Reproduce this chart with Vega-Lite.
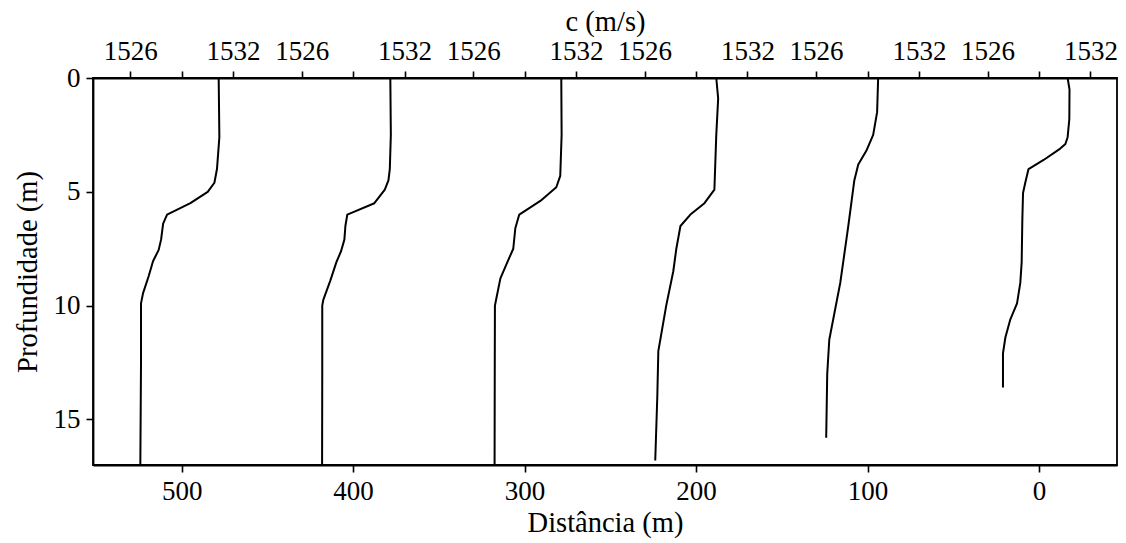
{
  "$schema": "https://vega.github.io/schema/vega-lite/v6.json",
  "width": 1024,
  "height": 387,
  "autosize": {"type": "none"},
  "padding": {"left": 93, "top": 78, "right": 9, "bottom": 78},
  "background": "white",
  "config": {
    "font": "'Liberation Serif', 'Times New Roman', serif",
    "view": {"stroke": "black", "strokeWidth": 1.8},
    "axis": {
      "grid": false,
      "domainColor": "black",
      "domainWidth": 1.8,
      "tickColor": "black",
      "tickWidth": 1.6,
      "tickSize": 7,
      "labelFont": "'Liberation Serif', 'Times New Roman', serif",
      "labelFontSize": 27,
      "labelColor": "black",
      "labelPadding": 6,
      "labelOverlap": false,
      "labelFlush": false,
      "titleFont": "'Liberation Serif', 'Times New Roman', serif",
      "titleFontSize": 28.5,
      "titleFontWeight": "normal",
      "titleColor": "black"
    }
  },
  "data": {
    "values": [
      {"p": 1, "d": 478.4, "z": 0}, {"p": 1, "d": 478.0, "z": 2.6}, {"p": 1, "d": 479.4, "z": 4.0}, {"p": 1, "d": 480.9, "z": 4.6},
      {"p": 1, "d": 484.8, "z": 5.0}, {"p": 1, "d": 494.9, "z": 5.5}, {"p": 1, "d": 508.5, "z": 6.0}, {"p": 1, "d": 510.8, "z": 6.4},
      {"p": 1, "d": 512.0, "z": 7.1}, {"p": 1, "d": 513.4, "z": 7.55}, {"p": 1, "d": 516.7, "z": 8.05}, {"p": 1, "d": 519.2, "z": 8.7},
      {"p": 1, "d": 522.5, "z": 9.45}, {"p": 1, "d": 523.7, "z": 9.9}, {"p": 1, "d": 523.7, "z": 12.5}, {"p": 1, "d": 524.1, "z": 17},

      {"p": 2, "d": 378.3, "z": 0}, {"p": 2, "d": 378.0, "z": 2.5}, {"p": 2, "d": 378.6, "z": 4.0}, {"p": 2, "d": 379.4, "z": 4.5},
      {"p": 2, "d": 381.5, "z": 4.9}, {"p": 2, "d": 387.6, "z": 5.5}, {"p": 2, "d": 403.4, "z": 6.0}, {"p": 2, "d": 404.5, "z": 6.5},
      {"p": 2, "d": 405.1, "z": 7.1}, {"p": 2, "d": 407.0, "z": 7.6}, {"p": 2, "d": 409.8, "z": 8.1}, {"p": 2, "d": 413.3, "z": 8.9},
      {"p": 2, "d": 417.4, "z": 9.75}, {"p": 2, "d": 418.0, "z": 10}, {"p": 2, "d": 418.0, "z": 13}, {"p": 2, "d": 418.1, "z": 17},

      {"p": 3, "d": 278.6, "z": 0}, {"p": 3, "d": 278.4, "z": 2.5}, {"p": 3, "d": 279.2, "z": 4.3}, {"p": 3, "d": 281.5, "z": 4.8},
      {"p": 3, "d": 290.8, "z": 5.4}, {"p": 3, "d": 303.1, "z": 6.0}, {"p": 3, "d": 305.4, "z": 6.6}, {"p": 3, "d": 306.6, "z": 7.5},
      {"p": 3, "d": 310.1, "z": 8.1}, {"p": 3, "d": 314.1, "z": 8.8}, {"p": 3, "d": 316.5, "z": 9.7}, {"p": 3, "d": 317.3, "z": 10},
      {"p": 3, "d": 317.4, "z": 13}, {"p": 3, "d": 317.5, "z": 17},

      {"p": 4, "d": 188.2, "z": 0}, {"p": 4, "d": 187.1, "z": 0.9}, {"p": 4, "d": 188.2, "z": 2.5}, {"p": 4, "d": 189.3, "z": 4.9},
      {"p": 4, "d": 195.1, "z": 5.5}, {"p": 4, "d": 203.3, "z": 6.0}, {"p": 4, "d": 209.1, "z": 6.5}, {"p": 4, "d": 211.5, "z": 7.5},
      {"p": 4, "d": 213.3, "z": 8.5}, {"p": 4, "d": 217.4, "z": 10}, {"p": 4, "d": 219.7, "z": 11}, {"p": 4, "d": 222.0, "z": 12},
      {"p": 4, "d": 222.6, "z": 14}, {"p": 4, "d": 223.8, "z": 16.8},

      {"p": 5, "d": 93.8, "z": 0}, {"p": 5, "d": 94.4, "z": 1.5}, {"p": 5, "d": 96.7, "z": 2.5}, {"p": 5, "d": 100.7, "z": 3.2},
      {"p": 5, "d": 105.4, "z": 3.8}, {"p": 5, "d": 107.7, "z": 4.5}, {"p": 5, "d": 111.2, "z": 6.5}, {"p": 5, "d": 115.9, "z": 9},
      {"p": 5, "d": 122.3, "z": 11.5}, {"p": 5, "d": 123.5, "z": 13}, {"p": 5, "d": 124.1, "z": 15.8},

      {"p": 6, "d": -16.7, "z": 0}, {"p": 6, "d": -17.8, "z": 0.5}, {"p": 6, "d": -17.7, "z": 1.8}, {"p": 6, "d": -16.7, "z": 2.6},
      {"p": 6, "d": -15.4, "z": 2.9}, {"p": 6, "d": -12.4, "z": 3.1}, {"p": 6, "d": -2.7, "z": 3.6}, {"p": 6, "d": 6.1, "z": 4.0},
      {"p": 6, "d": 8.0, "z": 4.6}, {"p": 6, "d": 9.3, "z": 5.05}, {"p": 6, "d": 9.7, "z": 6.2}, {"p": 6, "d": 10.1, "z": 8.1},
      {"p": 6, "d": 10.9, "z": 9.0}, {"p": 6, "d": 12.8, "z": 9.9}, {"p": 6, "d": 16.7, "z": 10.6}, {"p": 6, "d": 19.6, "z": 11.4},
      {"p": 6, "d": 21.0, "z": 12.1}, {"p": 6, "d": 21.0, "z": 13.6}
    ]
  },
  "encoding": {
    "y": {
      "field": "z",
      "type": "quantitative",
      "scale": {"domain": [0, 17], "reverse": true, "nice": false, "zero": false},
      "axis": {"title": "Profundidade (m)", "values": [0, 5, 10, 15], "titlePadding": 11}
    },
    "detail": {"field": "p", "type": "nominal"},
    "order": {"field": "z", "type": "quantitative"}
  },
  "layer": [
    {
      "mark": {"type": "line", "color": "black", "strokeWidth": 2, "strokeJoin": "round"},
      "encoding": {
        "x": {
          "field": "d",
          "type": "quantitative",
          "scale": {"domain": [551.7, -45.5], "nice": false, "zero": false},
          "axis": {"title": "Distância (m)", "values": [500, 400, 300, 200, 100, 0], "titlePadding": 4}
        }
      }
    },
    {
      "mark": {"type": "line", "strokeOpacity": 0},
      "encoding": {
        "x": {
          "field": "d",
          "type": "quantitative",
          "axis": {
            "orient": "top",
            "title": "c (m/s)",
            "titlePadding": 1,
            "values": [530, 500, 470, 430, 400, 370, 330, 300, 270, 230, 200, 170, 130, 100, 70, 30, 0, -30],
            "labelExpr": "datum.value % 100 == 30 ? '1526' : (datum.value % 100 == 70 || datum.value % 100 == -30) ? '1532' : ''"
          }
        }
      }
    }
  ],
  "resolve": {"axis": {"x": "independent"}}
}
